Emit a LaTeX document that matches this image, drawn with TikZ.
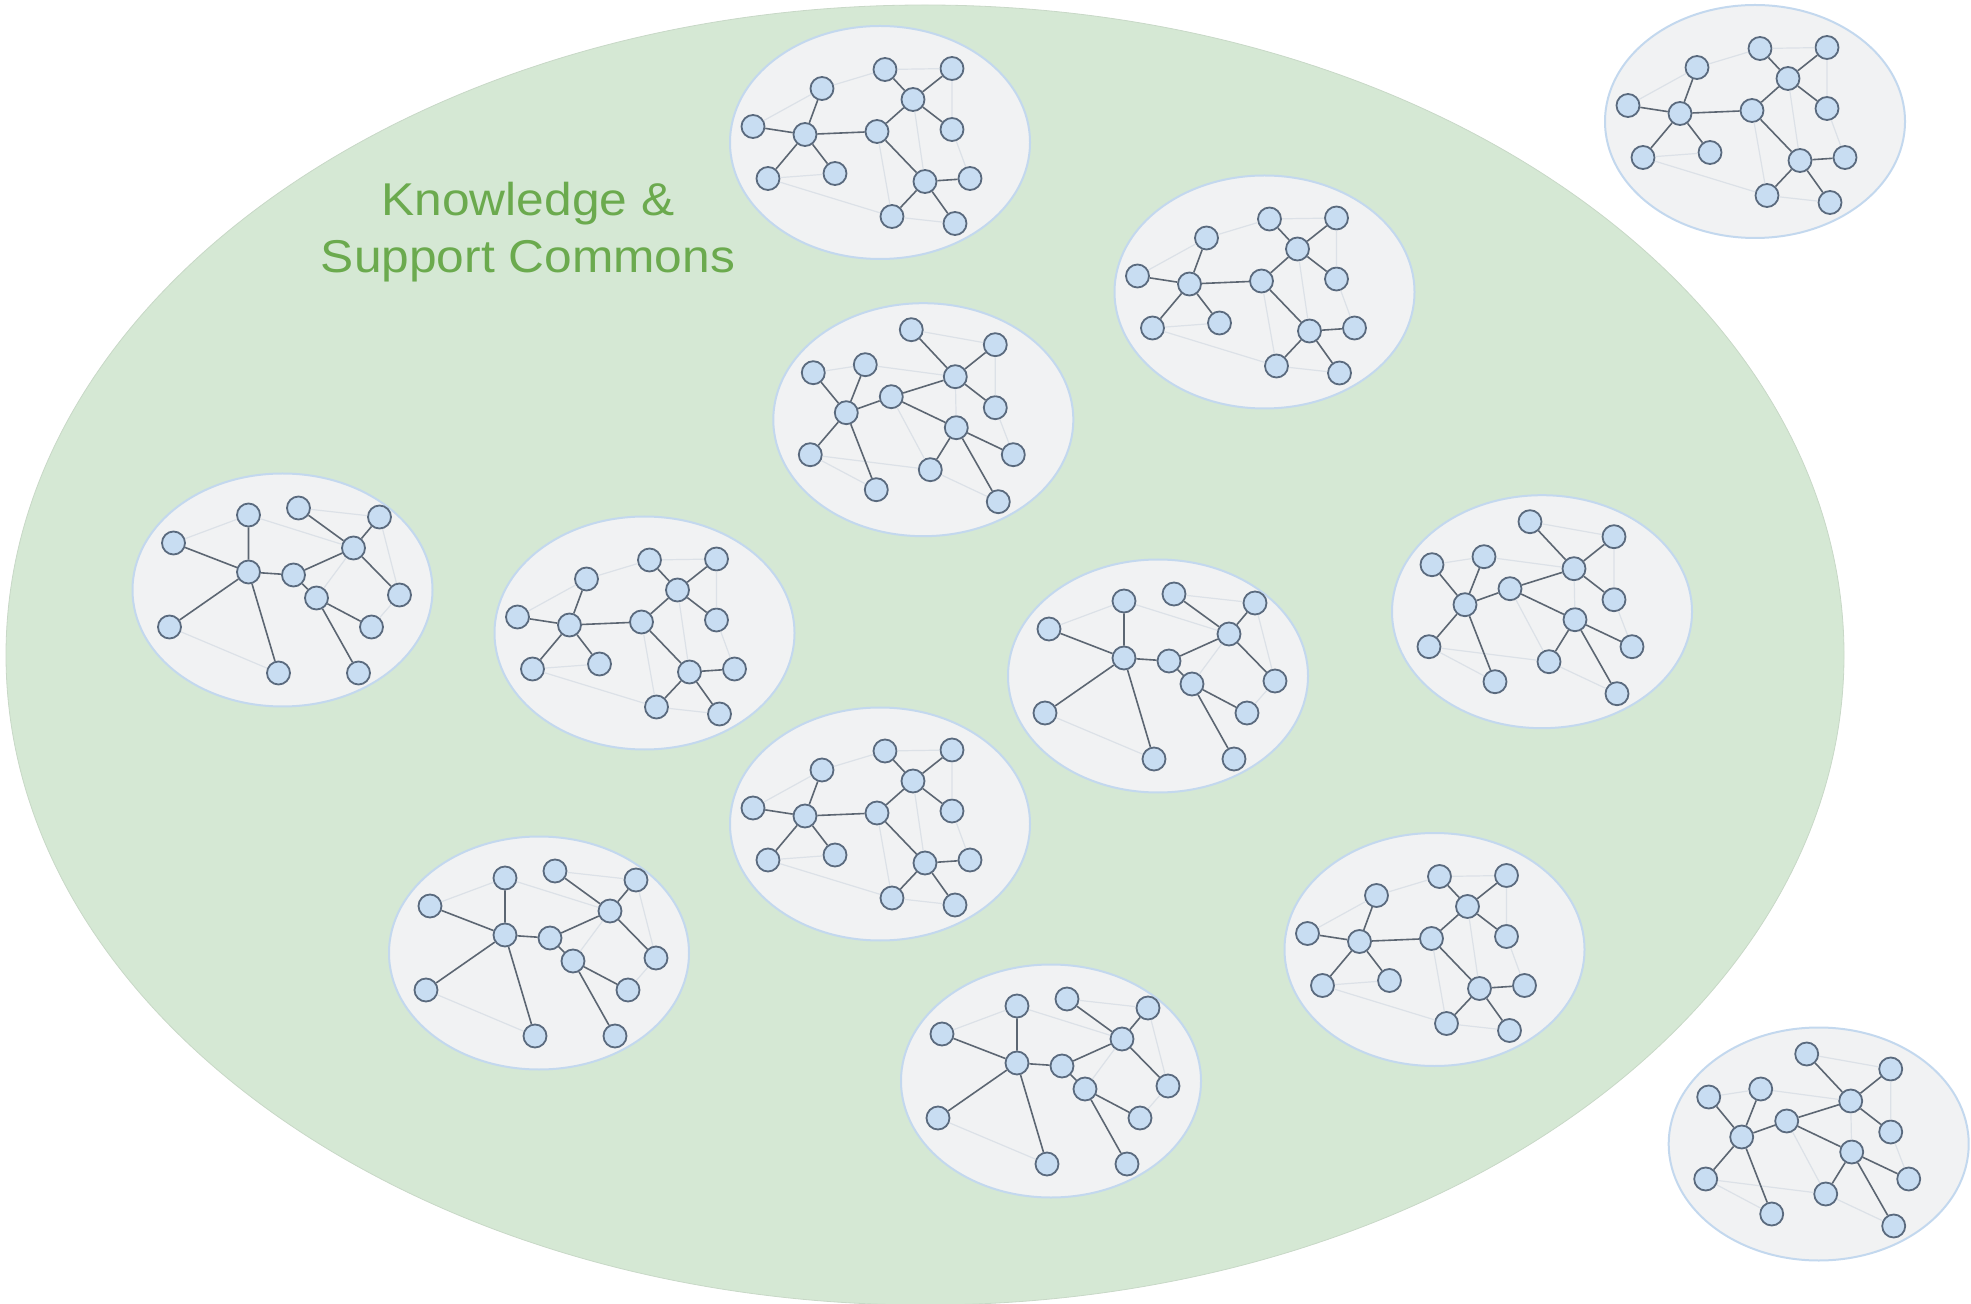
\documentclass[tikz,border=0pt]{standalone}
\usepackage{fontspec}
\newfontfamily\commonsfont[FakeStretch=1.08]{Liberation Sans}
\usetikzlibrary{shapes.geometric}

\definecolor{commonsfill}{HTML}{D5E8D4}
\definecolor{commonstext}{HTML}{6BAA4E}
\definecolor{communityfill}{HTML}{F1F2F3}
\definecolor{communityline}{HTML}{C3D8EE}
\definecolor{memberfill}{HTML}{C8DDF2}
\definecolor{memberline}{HTML}{5A6A7E}
\definecolor{linkcolor}{HTML}{5C6672}
\definecolor{faintcolor}{HTML}{DCE1E7}

\tikzset{
    commons/.style={ellipse, fill=commonsfill, draw=commonsfill!85!gray,
        line width=0.4pt, inner sep=0pt, minimum width=919pt, minimum height=650pt},
    community/.style={ellipse, fill=communityfill, draw=communityline,
        line width=1pt, inner sep=0pt, minimum width=150pt, minimum height=116.5pt},
    member/.style={circle, fill=memberfill, draw=memberline,
        line width=0.9pt, inner sep=0pt, minimum size=11.5pt},
    link/.style={draw=linkcolor, line width=0.8pt},
    faint/.style={draw=faintcolor, line width=0.6pt}
}

% community with a left hub, a middle node and two hubs on the right
\newcommand{\communityA}[2]{
    \node[community] (#1) at (#2) {};
    \begin{scope}[shift={(#2)}]
        \node[member] (#1-1) at (-58,-54) {};
        \node[member] (#1-2) at (-127,-16) {};
        \node[member] (#1-3) at (-75,-8) {};
        \node[member] (#1-4) at (-112,36) {};
        \node[member] (#1-5) at (-45,31) {};
        \node[member] (#1-6) at (-3,-11) {};
        \node[member] (#1-7) at (33,-43) {};
        \node[member] (#1-8) at (5,-73) {};
        \node[member] (#1-9) at (72,-74) {};
        \node[member] (#1-10) at (72,-13) {};
        \node[member] (#1-11) at (45,39) {};
        \node[member] (#1-12) at (90,36) {};
        \node[member] (#1-13) at (12,74) {};
        \node[member] (#1-14) at (75,81) {};
    \end{scope}
    \draw[faint] (#1-1) -- (#1-8) (#1-8) -- (#1-9) (#1-9) -- (#1-10)
        (#1-2) -- (#1-1) (#1-4) -- (#1-5) (#1-4) -- (#1-13) (#1-6) -- (#1-13)
        (#1-7) -- (#1-11) (#1-13) -- (#1-14) (#1-10) -- (#1-12);
    \draw[link] (#1-3) -- (#1-1) (#1-3) -- (#1-2) (#1-3) -- (#1-4)
        (#1-3) -- (#1-5) (#1-3) -- (#1-6) (#1-6) -- (#1-7)
        (#1-7) -- (#1-8) (#1-7) -- (#1-9) (#1-7) -- (#1-10)
        (#1-6) -- (#1-11) (#1-11) -- (#1-12) (#1-11) -- (#1-13) (#1-11) -- (#1-14);
}

% community with a long spoke down from the left hub
\newcommand{\communityB}[2]{
    \node[community] (#1) at (#2) {};
    \begin{scope}[shift={(#2)}]
        \node[member] (#1-1) at (-109,-47) {};
        \node[member] (#1-2) at (-34,-75) {};
        \node[member] (#1-3) at (-34,-18) {};
        \node[member] (#1-4) at (-113,37) {};
        \node[member] (#1-5) at (-4,83) {};
        \node[member] (#1-6) at (11,-15) {};
        \node[member] (#1-7) at (16,-82) {};
        \node[member] (#1-8) at (71,-42) {};
        \node[member] (#1-9) at (97,-73) {};
        \node[member] (#1-10) at (117,5) {};
        \node[member] (#1-11) at (34,8) {};
        \node[member] (#1-12) at (89,37) {};
        \node[member] (#1-13) at (76,83) {};
    \end{scope}
    \draw[faint] (#1-1) -- (#1-2) (#1-2) -- (#1-8) (#1-7) -- (#1-9)
        (#1-9) -- (#1-10) (#1-4) -- (#1-5) (#1-10) -- (#1-12) (#1-8) -- (#1-11);
    \draw[link] (#1-3) -- (#1-1) (#1-3) -- (#1-2) (#1-3) -- (#1-4)
        (#1-3) -- (#1-5) (#1-3) -- (#1-6) (#1-6) -- (#1-8)
        (#1-8) -- (#1-7) (#1-8) -- (#1-9) (#1-8) -- (#1-10)
        (#1-6) -- (#1-11) (#1-11) -- (#1-12) (#1-11) -- (#1-13);
}

% community where the middle node feeds both right hubs
\newcommand{\communityC}[2]{
    \node[community] (#1) at (#2) {};
    \begin{scope}[shift={(#2)}]
        \node[member] (#1-1) at (-110,-47) {};
        \node[member] (#1-2) at (-58,-55) {};
        \node[member] (#1-3) at (-77,-7) {};
        \node[member] (#1-4) at (-113,35) {};
        \node[member] (#1-5) at (-47,70) {};
        \node[member] (#1-6) at (-32,-23) {};
        \node[member] (#1-7) at (-12,-90) {};
        \node[member] (#1-8) at (32,-43) {};
        \node[member] (#1-9) at (72,-75) {};
        \node[member] (#1-10) at (72,-12) {};
        \node[member] (#1-11) at (33,8) {};
        \node[member] (#1-12) at (90,35) {};
        \node[member] (#1-13) at (7,50) {};
        \node[member] (#1-14) at (75,82) {};
    \end{scope}
    \draw[faint] (#1-1) -- (#1-2) (#1-2) -- (#1-8) (#1-7) -- (#1-9)
        (#1-9) -- (#1-10) (#1-8) -- (#1-11) (#1-4) -- (#1-13) (#1-6) -- (#1-13)
        (#1-13) -- (#1-14) (#1-10) -- (#1-12) (#1-4) -- (#1-5);
    \draw[link] (#1-3) -- (#1-1) (#1-3) -- (#1-2) (#1-3) -- (#1-4)
        (#1-3) -- (#1-5) (#1-3) -- (#1-6) (#1-6) -- (#1-8)
        (#1-8) -- (#1-7) (#1-8) -- (#1-9) (#1-8) -- (#1-10)
        (#1-6) -- (#1-11) (#1-11) -- (#1-12) (#1-11) -- (#1-13) (#1-11) -- (#1-14);
}

\begin{document}
\begin{tikzpicture}[x=0.5pt, y=-0.5pt]
    \useasboundingbox (0,0) rectangle (1971,1304);

    \node[commons] (commons) at (925,655) {};
    \node[font=\commonsfont\fontsize{23}{28.3}\selectfont, text=commonstext,
        align=center, inner sep=0pt] (title) at (528,232) {
        Knowledge \&\\Support Commons
    };

    \communityA{top}{880,142.5}
    \communityA{upper}{1264.5,292}
    \communityA{west}{644.5,633}
    \communityA{centre}{880,824}
    \communityA{southeast}{1434.5,949.5}
    \communityA{outernorth}{1755,121.5}

    \communityB{farwest}{282.5,590}
    \communityB{middle}{1158,676}
    \communityB{southwest}{539,953}
    \communityB{south}{1051,1081}

    \communityC{north}{923.3,419.7}
    \communityC{east}{1542,611.7}
    \communityC{outersouth}{1818.7,1144}
\end{tikzpicture}
\end{document}
